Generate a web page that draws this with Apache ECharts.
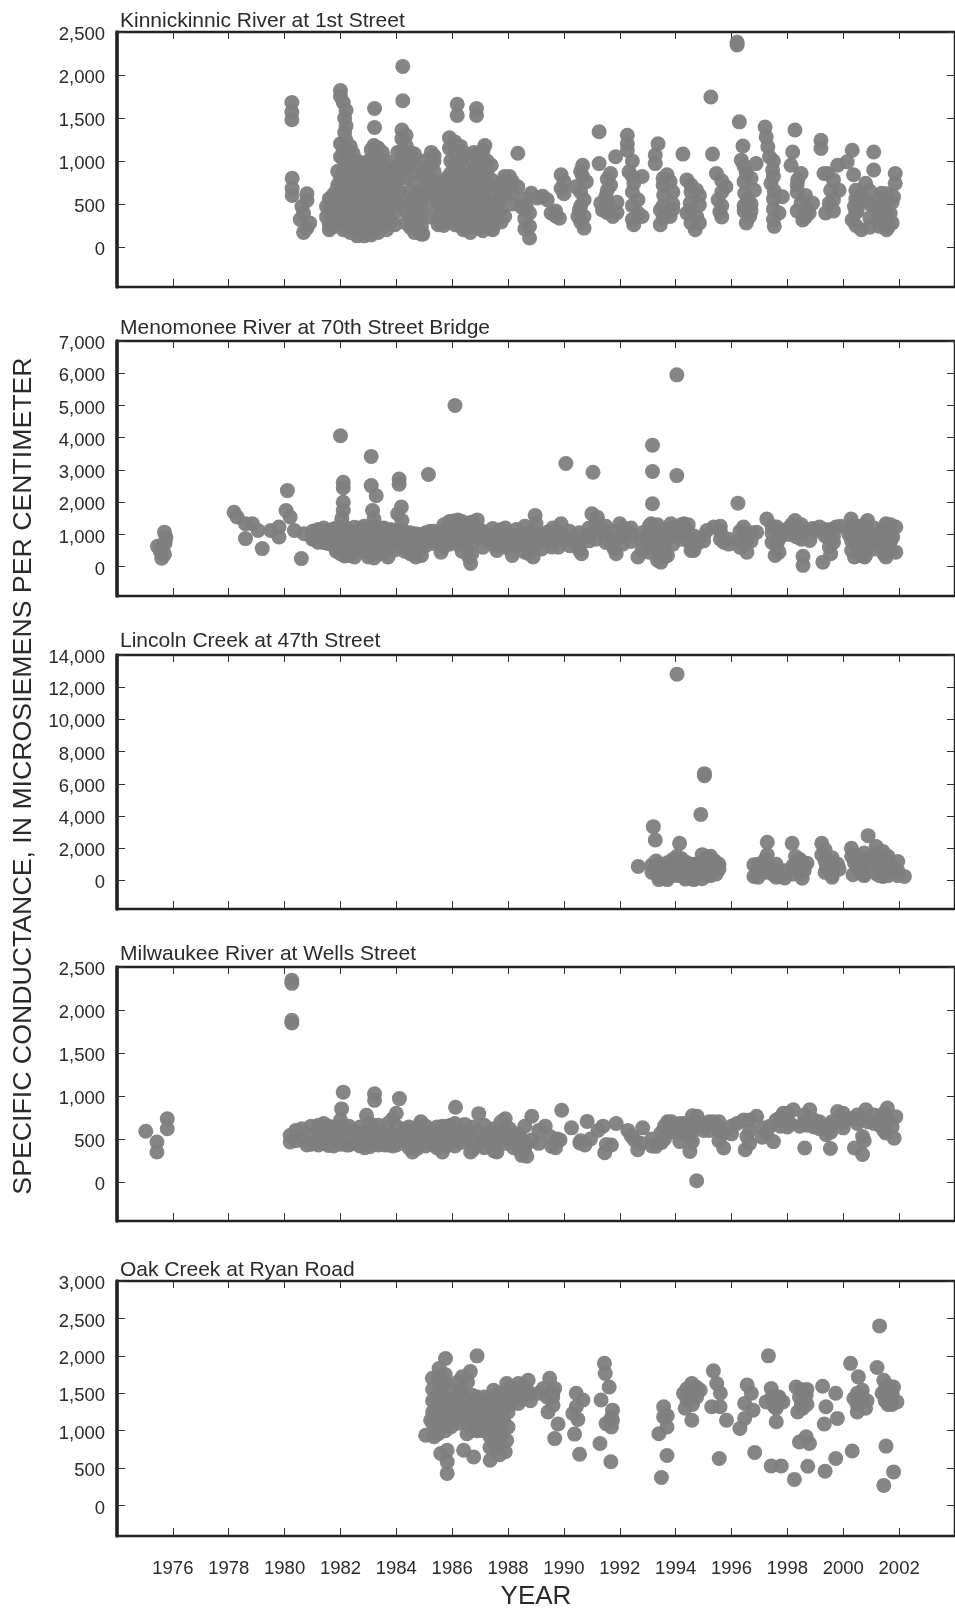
<!DOCTYPE html>
<html><head><meta charset="utf-8">
<style>html,body{margin:0;padding:0;background:#fff;overflow:hidden}#c{width:955px;height:1611px}</style>
<script src="https://cdn.jsdelivr.net/npm/echarts@6/dist/echarts.min.js"></script>
</head><body><div id="c"></div>
<script>
const yearTicks=[1976,1978,1980,1982,1984,1986,1988,1990,1992,1994,1996,1998,2000,2002];
const panelTitles=["Kinnickinnic River at 1st Street","Menomonee River at 70th Street Bridge","Lincoln Creek at 47th Street","Milwaukee River at Wells Street","Oak Creek at Ryan Road"];
const ticks1=[0,500,1000,1500,2000,2500];
const ticks2=[0,1000,2000,3000,4000,5000,6000,7000];
const ticks3=[0,2000,4000,6000,8000,10000,12000,14000];
const ticks4=[0,500,1000,1500,2000,2500];
const ticks5=[0,500,1000,1500,2000,2500,3000];
const kinnickinnic=[
[1980.26,1680],[1980.26,1570],[1980.26,1480],[1980.27,800],[1980.27,680],[1980.27,600],
[1980.8,620],[1980.8,540],[1980.62,470],[1980.56,320],[1980.68,390],[1980.8,220],[1980.68,170],[1980.9,280],
[1981.5,470],[1981.5,350],[1981.6,560],[1981.6,260],[1981.6,200],[1981.75,610],[1981.75,470],[1981.75,350],[1981.75,240],
[1981.9,880],[1981.9,720],[1981.9,600],[1981.9,480],
[1982,1820],[1982,1750],[1982,1200],[1982,1050],[1982,800],[1982,650],[1982,500],[1982,380],
[1982.2,1590],[1982.2,1410],[1982.2,1240],[1982.2,1090],[1982.2,950],[1982.2,800],[1982.2,620],[1982.2,480],[1982.2,350],[1982.2,250],
[1982.45,1090],[1982.45,950],[1982.45,650],[1982.45,500],[1982.45,350],[1982.45,220],
[1982.7,980],[1982.7,750],[1982.7,600],[1982.7,450],[1982.7,300],[1982.7,170],
[1983,1000],[1983,880],[1983,750],[1983,600],[1983,450],[1983,300],[1983,180],
[1983.22,1610],[1983.22,1390],[1984.23,2100],[1984.23,1700],
[1983.2,1180],[1983.2,1050],[1983.2,900],[1983.2,750],[1983.2,600],[1983.2,450],[1983.2,300],
[1983.5,1100],[1983.5,950],[1983.5,800],[1983.5,650],[1983.5,500],[1983.5,350],[1983.5,230],
[1983.8,900],[1983.8,750],[1983.8,600],[1983.8,450],[1983.8,300],
[1984.1,800],[1984.1,650],[1984.1,500],
[1984.2,1360],[1984.2,1260],[1984.2,1120],[1984.2,1000],[1984.2,880],[1984.5,1100],[1984.5,1000],
[1984.5,650],[1984.5,500],[1984.5,350],[1984.5,230],[1984.8,600],[1984.8,450],[1984.8,300],[1984.8,190],[1984.95,150],
[1985,1000],[1985,850],[1985,700],[1985.25,1100],[1985.25,950],
[1985.6,700],[1985.6,550],[1985.6,400],[1985.6,280],[1985.8,800],[1985.8,650],[1985.8,500],
[1985.9,1270],[1985.9,1150],[1986.18,1660],[1986.18,1530],
[1986.3,1170],[1986.3,1000],[1986.3,850],[1986.3,700],[1986.3,550],[1986.3,400],[1986.3,260],
[1986.5,800],[1986.5,600],[1986.5,400],[1986.5,220],
[1986.78,1100],[1986.78,900],[1986.78,750],[1986.78,600],[1986.78,450],[1986.78,300],
[1986.87,1610],[1986.87,1530],
[1987,1100],[1987,950],[1987,800],[1987,650],[1987,500],[1987,350],[1986.95,220],
[1987.17,1180],[1987.25,1000],[1987.25,850],[1987.25,700],[1987.25,550],[1987.25,400],[1987.25,260],[1987.45,200],
[1987.6,700],[1987.6,500],[1987.6,350],
[1987.88,820],[1987.88,625],[1987.88,355],[1987.7,550],
[1988.35,1090],[1988.35,700],[1987.95,700],[1988.05,820],
[1988.83,625],[1989.24,590],[1988.47,470],[1988.77,395],[1988.77,240],[1988.77,105],[1989.54,395],[1989.84,335],[1989.4,550],[1988.65,480],[1989.05,570],
[1989.9,840],[1989.9,680],[1990.43,700],[1990.67,950],[1990.67,820],[1990.8,760],[1990.55,430],[1990.72,550],[1990.72,355],[1990.72,220],[1990.5,355],
[1991.26,1340],[1991.26,970],[1991.85,1050],[1991.67,855],[1991.67,720],[1991.5,590],[1991.38,430],[1991.75,355],[1991.32,510],
[1992.27,1300],[1992.27,1200],[1992.27,1125],[1992.33,875],[1992.8,820],[1992.5,740],[1992.65,550],[1992.65,395],[1992.5,260],[1992.8,355],
[1993.37,1200],[1993.27,1070],[1993.27,970],[1993.69,840],[1993.8,760],[1993.57,605],[1993.45,430],[1993.45,260],[1993.8,355],
[1994.26,1080],[1994.4,780],[1994.75,660],[1994.52,510],[1994.75,355],[1994.4,395],[1994.7,200],
[1995.32,1080],[1995.26,1745],[1995.46,855],[1995.8,700],[1995.52,550],[1995.58,410],
[1996.2,2380],[1996.2,2350],[1996.28,1455],[1996.41,1175],[1996.35,1010],[1996.53,855],[1996.47,625],[1996.88,970],[1996.82,660],[1996.59,550],[1996.65,355],[1996.53,280],
[1997.2,1395],[1997.24,1280],[1997.3,1165],[1997.36,1050],[1997.47,895],[1997.41,740],[1997.82,585],[1997.7,395],[1997.53,650],[1997.53,240],
[1998.27,1360],[1998.19,1105],[1998.13,950],[1998.49,855],[1998.37,780],[1998.49,510],[1998.78,395],[1998.55,315],[1998.9,510],
[1999.2,1240],[1999.2,1145],[1999.31,855],[1999.8,950],[1999.44,855],[1999.55,660],[1999.85,660],[1999.5,510],[1999.37,395],
[2000.32,1125],[2000.14,990],[2000.37,840],[2000.8,740],[2000.75,550],[2000.4,470],[2000.32,315],[2000.65,200],[2001.09,1105],[2001.09,895],[2001.37,625],[2001.15,470],[2001.62,240],[2001.26,315],
[2001.86,855],[2001.86,740],[2001.8,585],[2001.68,395],[2001.5,500],[2001.5,400],[2000.6,600],[2000.5,420]
];
const kinnickinnicColumns=[
[1981.65,[530,420,310]],[1981.85,[650,420,300]],[1982.1,[1680,1130,1020,880,730,570,430,300,200]],[1982.15,[1500,1330]],[1982.35,[1170,1020,870,720,570,420,290,170]],
[1982.6,[1000,860,720,560,410,260,130]],[1982.85,[950,810,670,520,380,240,130]],[1983.1,[1130,1000,830,680,520,370,230,140]],[1983.35,[1150,1010,860,710,560,400,260,170]],
[1983.65,[1000,860,720,570,420,280,200]],[1983.95,[850,700,550,400,260]],[1984.05,[1100,950]],[1984.35,[1300,1180,1060,930,800,570,420,280]],[1984.65,[1080,940,850,750,580,430,280,170]],
[1984.9,[530,380,240,150]],[1985.1,[920,780,640]],[1985.2,[800,500,350]],[1985.35,[1060,1000,880,760,620]],[1985.5,[640,500,340,260]],[1985.7,[760,620,460,320,250]],[1985.95,[1000,860,720,580,440,320]],
[1986.1,[1220,1100,950,800,650,500,380,260]],[1986.4,[1100,920,780,630,480,330,200]],[1986.65,[1050,850,700,540,380,240,170]],[1986.9,[1030,880,730,580,430,280]],
[1987.1,[1120,980,830,680,530,380,240,190]],[1987.4,[950,780,630,480,330,220]],[1987.75,[740,580,430,290]],[1988.15,[760,620,500]],[1988.6,[560,430,330,210]],
[1989.7,[420,360]],[1990,[760,620]],[1990.6,[880,640,480,290]],[1991.55,[790,660,520,400]],[1991.9,[400,520]],[1992.45,[1000,820,640,480,320]],[1993.55,[800,720,480,340]],
[1993.9,[640,500,440]],[1994.55,[720,640,440,280]],[1994.85,[600,490,280]],[1995.65,[770,640,480,350]],[1996.45,[940,760,480,420]],[1996.7,[800,500,420]],[1997.5,[1000,820,560,440,320]],
[1998.35,[720,640,420]],[1998.65,[600,440,350]],[1999.65,[780,550,420]],[2000.45,[660,560,400,250]],[2000.95,[650,500,340,230]],[2001.3,[560,400,240]],[2001.55,[620,330,200]],[2001.75,[520,280]]
];
const menomonee=[
[1975.7,1070],[1975.75,900],[1975.72,720],[1975.6,600],[1975.45,630],[1975.55,470],[1975.6,260],[1975.7,380],
[1978.19,1690],[1978.3,1540],[1978.6,1330],[1978.85,1330],[1978.6,870],[1979.2,560],[1979.05,1120],[1979.5,1120],
[1979.8,1230],[1979.8,920],[1980.1,2360],[1980.05,1740],[1980.2,1540],[1980.6,250],[1980.35,1120],[1980.7,1020],[1981,920],
[1981,1100],[1981,850],[1981.4,1200],[1981.4,1000],[1981.4,750],[1981.7,1150],[1981.7,950],[1981.7,700],
[1982,4060],[1982.1,2620],[1982.1,2450],[1982.1,2000],[1982.1,1740],[1982.05,1500],
[1982,1200],[1982,1000],[1982,800],[1982,600],[1982,400],[1982.3,1150],[1982.3,950],[1982.3,750],[1982.3,550],[1982.3,350],
[1982.7,1200],[1982.7,1000],[1982.7,800],[1982.7,600],
[1983.1,3420],[1983.1,2515],[1983.28,2200],[1983.15,1740],[1983.2,1480],
[1983,1150],[1983,950],[1983,750],[1983,500],[1983,300],[1983.4,1200],[1983.4,1000],[1983.4,800],[1983.4,600],[1983.4,400],
[1983.8,1150],[1983.8,950],[1983.8,700],[1983.7,300],
[1984.1,2720],[1984.1,2560],[1984.18,1850],[1984.05,1640],[1984.2,1430],[1984.1,1100],[1984.1,900],[1984.1,700],
[1984.5,1050],[1984.5,850],[1984.5,650],[1984.5,400],[1984.9,1000],[1984.9,800],[1984.9,600],[1984.9,350],
[1985.15,2860],[1985.2,1100],[1985.2,850],[1985.5,1050],[1985.5,800],[1985.6,450],
[1986.1,5000],[1985.9,1400],[1985.9,1200],[1985.9,950],[1985.9,700],[1986.2,1450],[1986.2,1200],[1986.2,950],[1986.2,700],
[1986.5,1350],[1986.5,1150],[1986.5,900],[1986.5,600],[1986.6,300],[1986.66,100],[1986.9,1450],[1986.9,1200],[1986.9,950],
[1987.3,1000],[1987.3,800],[1987.6,1050],[1987.6,800],[1987.6,500],[1987.9,1200],[1987.9,950],[1987.9,600],[1988.15,950],[1988.15,750],[1988.15,350],
[1988.97,1590],[1989,1340],[1988.75,400],[1988.8,710],[1988.75,1020],[1988.4,1000],[1988.45,700],
[1989.56,610],[1989.4,1070],[1989.9,1330],[1990.05,920],[1990.63,400],[1990.4,810],[1990.75,920],[1991,1640],[1991.2,1530],[1991.45,1120],
[1991.87,400],[1991.7,710],[1992,1330],[1992.25,1120],[1990.07,3200],[1991.04,2930],
[1993.17,3770],[1993.17,2950],[1993.17,1950],[1994.04,5950],[1994.04,2825],
[1993.12,1330],[1993.24,810],[1992.65,300],[1993.47,140],[1993.71,350],[1993.59,710],[1992.9,920],[1993.83,1330],[1994.3,1330],[1994.04,1020],[1994.55,500],[1994.78,710],[1995.36,1230],[1995.72,760],[1995.12,1120],
[1996.23,1970],[1996.43,1230],[1996.9,1070],[1996.55,810],[1996.55,450],[1997.26,1480],[1997.62,1230],[1997.85,1120],[1997.62,710],[1997.56,350],
[1998.27,1430],[1998.33,920],[1998.8,810],[1998.56,320],[1998.56,40],[1999.15,1230],[1999.74,1230],[1999.5,610],[1999.27,140],
[2000.28,1480],[2000.87,1430],[2000.46,1020],[2000.82,1020],[2000.46,710],[2000.4,300],[2000.76,300],[2001.53,1330],[2001.88,1230],[2001.3,1020],[2001.77,920],[2001.41,610],[2001.88,450],[2001.53,300],
[1999.45,1000],[1998.9,1180],[2000.95,700],[2000.2,1000]
];
const menomoneeColumns=[
[1981.2,[1150,960,760]],[1981.55,[1100,900,720]],[1981.85,[1200,1040,860,680,480]],[1982.15,[1240,1080,900,700,520,330]],[1982.5,[1220,1040,860,660,460,300]],[1982.85,[1250,1080,880,680,470]],
[1983.2,[1240,1060,870,660,440,270]],[1983.55,[1200,1020,830,620,450]],[1983.95,[1120,930,740,520]],[1984.3,[1080,880,680,480]],[1984.7,[1020,840,640,430,300]],[1985.05,[1050,850,650]],
[1985.35,[1100,920,720]],[1985.7,[1300,1080,860,620]],[1986.05,[1420,1220,1020,820]],[1986.35,[1400,1180,960,760,480]],[1986.7,[1380,1160,920,700,400]],[1987.1,[1100,900,600]],
[1987.45,[1180,950,700]],[1987.75,[1150,900,650]],[1988.3,[1150,900,650]],[1988.6,[1250,1000,750,450]],[1988.9,[1100,850,600,300]],[1989.2,[1000,800,550]],[1989.6,[1200,950,750]],
[1989.8,[1100,850,600]],[1990.2,[1100,850,650]],[1990.55,[1050,800,520]],[1990.9,[1200,950,800]],[1991.15,[1350,1050,850]],[1991.5,[1250,1000,750]],[1991.8,[1100,850,550]],[1992.1,[1200,950,700]],
[1992.4,[1200,1000,780]],[1992.8,[1050,800,500]],[1993.05,[1250,1000,750,450]],[1993.35,[1300,1050,800,500,200]],[1993.6,[1150,900,500,300]],[1993.9,[1200,950,700]],[1994.2,[1300,1100,850]],
[1994.45,[1300,1050,800]],[1994.65,[950,750,500]],[1995,[950,800]],[1995.6,[1250,1100,850]],[1995.9,[850,700]],[1996.3,[1100,800,600]],[1996.7,[1050,800]],[1996.45,[1000]],
[1997.45,[1250,1050,750]],[1997.7,[1100,850,450]],[1998.05,[1200,1000]],[1998.5,[1300,1100,850]],[1998.15,[1300,1100]],[1999,[1100]],[1999.35,[1150,950]],[1999.55,[1150,850,400]],[1999.65,[950,750]],
[1999.9,[1250]],[2000.3,[1250,1050,800,500]],[2000.6,[1250,1050,800,500,350]],[2000.8,[1300,1100,800,500,350]],[2001.1,[1200,1000,750,550]],[2001.45,[1200,1000,700,400]],[2001.7,[1300,1100,800,500]]
];
const lincoln=[
[1994.05,12810],[1995.03,6630],[1995.03,6500],[1994.9,4100],[1993.2,3340],[1993.27,2510],[1992.66,870],[1994.14,2300],
[1993.3,1200],[1993.3,600],[1993.55,400],[1993.55,900],[1993.9,1300],[1993.9,800],[1993.9,500],[1994.2,1350],[1994.2,800],[1994.55,1000],[1994.55,400],[1994.8,1000],[1994.8,400],[1995.1,1400],[1995.1,1000],[1995.1,500],[1995.4,1200],[1995.4,650],[1995.55,1000],[1995.55,700],
[1996.8,970],[1996.8,250],[1997.28,2370],[1997.28,1590],[1997.4,760],[1997.75,250],[1997.5,350],[1997.6,1000],[1997.1,800],[1997.6,400],
[1998.17,2300],[1998.29,1480],[1998.7,1070],[1998.53,140],[1998.41,760],[1998.6,600],[1998.3,1000],
[1999.23,2300],[1999.23,1590],[1999.53,1170],[1999.59,350],[1999.4,800],[1999.8,1000],
[2000.29,2000],[2000.58,1380],[2000.35,350],[2000.7,350],[2000.53,760],[2000.89,2780],[2000.3,1500],
[2001.18,2100],[2001.42,1800],[2001.06,970],[2001.42,250],[2001.1,1500],[2001.6,1170],[2001.95,1170],[2001.8,760],[2002.19,250],[2001.4,900]
];
const lincolnColumns=[
[1993.15,[950,500]],[1993.4,[1000,250,50]],[1993.7,[1100,700,200,50]],[1994.05,[1500,1100,700,300]],[1994.35,[1150,700,200,80]],[1994.65,[1000,700,100,50]],[1994.95,[1600,1000,700,100]],[1995.25,[1500,1000,300]],[1995.45,[900,400]],
[1996.95,[1000,500,200]],[1997.2,[1300,900,500]],[1997.6,[700,200]],[1997.9,[600,150]],[1998.45,[1300,1000,500]],[1998.6,[900]],[1998.2,[900,400]],[1999.35,[1900,1200,500]],[1999.6,[1400,800,200]],[1999.85,[700]],
[2000.6,[1000,600]],[2000.4,[1600,1100]],[2000.75,[1700,1300,900,300]],[2001.3,[1300,700,300]],[2001.6,[1500,800,300]],[2001.95,[600,300]],[2001.2,[1700,400]]
];
const milwaukee=[
[1975.03,590],[1975.43,350],[1975.43,465],[1975.8,735],[1975.8,620],
[1980.26,2345],[1980.26,2310],[1980.26,1880],[1980.26,1850],
[1980.2,465],[1980.2,540],[1980.62,620],[1980.8,430],[1980.62,500],[1981.21,660],[1981.21,540],[1981.21,430],[1981.57,425],[1981.57,650],[1981.57,530],
[1982.1,1045],[1982.04,850],[1981.86,580],[1982.22,430],[1982.1,650],[1982.51,590],[1982.51,450],[1982.93,775],[1982.87,400],[1982.87,580],
[1983.22,1025],[1983.22,950],[1983.46,580],[1983.58,430],[1983.2,620],[1983.2,450],[1984.11,970],[1983.87,735],[1983.87,550],[1983.87,420],[1984.29,620],[1984.29,480],
[1984.58,350],[1984.58,550],[1984.88,700],[1984.88,520],[1985.24,580],[1985.24,440],[1985.65,350],[1985.65,520],[1985.65,650],
[1986.12,870],[1985.95,660],[1985.95,500],[1986.54,590],[1986.66,350],[1986.3,600],[1986.3,460],[1986.95,795],[1986.95,580],[1986.95,450],[1987.37,580],[1987.37,450],[1987.6,350],[1987.6,500],[1987.9,735],[1987.9,600],[1987.9,450],[1988.2,540],[1988.2,400],[1988.49,310],[1988.49,500],
[1988.85,765],[1989.33,650],[1988.85,490],[1988.67,300],[1988.67,450],[1989.56,415],[1989.75,500],[1989.92,835],[1989.86,490],[1990.27,630],[1990.83,705],[1990.57,455],[1990.75,430],[1990.6,480],
[1991.4,650],[1991.22,600],[1991.87,680],[1991.52,435],[1991.46,340],[1991.7,430],[1992.29,600],[1992.82,630],[1992.52,490],[1992.64,375],[1992.75,450],
[1993.29,415],[1993.47,570],[1993.71,700],[1993.5,460],[1994.3,680],[1994,620],[1994.77,765],[1994.54,530],[1994.51,355],[1994.75,15],[1994.75,640],
[1995.36,700],[1995.72,570],[1995.72,395],[1995.5,650],[1996.43,720],[1996.9,765],[1996.55,530],[1996.49,375],[1996.2,680],
[1997.38,650],[1997.85,800],[1997.5,470],[1997.26,570],[1997.6,720],[1998.21,840],[1998.8,840],[1998.44,650],[1998.1,680],[1998.7,660],[1999.33,650],[1999.39,550],[1998.62,395],[1999.54,390],
[1999.8,820],[1999.6,700],[2000.34,740],[2000.1,730],[2000.81,840],[2000.69,530],[2000.4,395],[2000.69,320],[2000.6,720],[2000.75,480],
[2001.58,860],[2001.88,760],[2001.34,650],[2001.82,510],[2001.52,570],[2001.6,720],[2001.75,640],[2001.3,720]
];
const milwaukeeColumns=[
[1980.4,[600,480]],[1980.95,[650,540,440]],[1981.4,[680,560,450]],[1981.75,[640,520,420]],[1982,[720,570,440]],[1982.3,[650,520,430]],[1982.7,[640,520,420]],[1983.05,[680,550,410]],[1983.35,[660,530,430]],
[1983.7,[680,540,430]],[1984,[800,650,520,430]],[1984.45,[640,510,400]],[1984.75,[640,510,390]],[1985.05,[650,520,420]],[1985.45,[640,500,400]],[1985.8,[650,530,420]],[1986.1,[680,520,420]],[1986.45,[670,480]],
[1986.75,[640,480,380]],[1987.15,[660,500,400]],[1987.5,[620,430,360]],[1987.75,[700,550]],[1988.05,[620,480]],[1988.35,[560,430]],[1988.6,[650,400]],[1989.1,[600,450]],[1989.5,[530]],[1989.7,[400]],
[1990.95,[500]],[1992.4,[540]],[1993.15,[500,420]],[1993.6,[650,500]],[1993.85,[700,580]],[1994.15,[680,580,470]],[1994.45,[650,560]],[1994.6,[770,640,470]],[1995,[680,600]],[1995.2,[700,600]],[1995.55,[700,600,480]],
[1996,[650,560]],[1996.65,[720,600,450]],[1997.1,[630,520]],[1997.75,[750,650]],[1998,[800,720,640]],[1998.6,[780,680]],[1998.95,[720,640]],[1999.15,[700,620]],[1999.55,[650,580]],[2000,[800,700,630]],
[2000.5,[780,680]],[2001.1,[780,680]],[2000.9,[700]],[2001.45,[800,680,600]]
];
const oak=[
[1985.76,1965],[1985.53,1830],[1985.29,1700],[1985.59,1585],[1985.41,1450],[1985.7,1450],[1985.41,1275],[1985.82,1340],[1985.23,1140],[1985.82,1140],[1985.35,920],[1985.05,940],[1985.59,1185],[1985.59,1050],
[1986.89,2000],[1986.65,1790],[1986.36,1720],[1986.36,1540],[1986.71,1475],[1986.41,1340],[1986.89,1230],[1986.53,1095],[1986.71,1005],[1986.53,960],[1986.12,1365],[1986.65,1275],
[1985.59,695],[1985.82,740],[1985.82,585],[1985.82,430],[1986.41,740],[1986.77,650],[1987.36,605],
[1987.95,1630],[1987.48,1540],[1987.6,1365],[1987.24,1320],[1987.84,1275],[1987.48,1140],[1987.84,1140],[1987.36,920],[1987.95,870],[1987.9,720],[1987.6,785],[1987.72,1005],[1987.48,1320],
[1988.72,1675],[1988.37,1630],[1988.66,1500],[1988.37,1365],[1988.13,1585],
[1989.49,1700],[1989.67,1565],[1989.26,1565],[1989.61,1340],[1989.43,1250],
[1990.44,1500],[1990.68,1410],[1990.32,1230],[1990.44,1320],[1989.79,1090],[1989.67,895],[1990.38,955],[1990.56,685],
[1991.45,1900],[1991.48,1765],[1991.62,1585],[1991.33,1410],[1991.74,1275],[1991.74,1140],[1991.51,1095],[1991.29,830],[1991.68,585],
[1993.57,1320],[1993.69,1050],[1993.4,960],[1993.69,670],[1993.49,375],[1993.57,1185],
[1994.58,1630],[1994.28,1500],[1994.88,1540],[1994.52,1450],[1994.34,1300],[1994.58,1140],
[1995.56,630],[1995.35,1800],[1995.47,1630],[1995.29,1320],[1995.59,1320],[1995.82,1140],
[1996.56,1610],[1996.71,1500],[1996.47,1365],[1996.77,1275],[1996.47,1165],[1996.3,1030],
[1996.83,710],[1997.32,2000],[1997.42,1565],[1997.24,1385],[1997.84,1385],[1997.54,1320],[1997.6,1120],[1997.42,530],[1997.78,530],
[1998.31,1585],[1998.67,1475],[1998.43,1450],[1998.37,1250],[1998.67,920],[1998.79,830],[1998.43,850],[1998.73,525],[1998.25,350],
[1999.26,1595],[1999.73,1500],[1999.38,1320],[1999.79,1165],[1999.32,1090],[1999.35,460],[1999.73,630],[2000.32,730],
[2000.26,1900],[2000.54,1720],[2000.68,1540],[2000.38,1430],[2000.8,1300],[2000.68,1450],
[2001.53,795],[2001.3,2400],[2001.21,1845],[2001.45,1675],[2001.8,1585],[2001.39,1500],[2001.63,1500],[2001.92,1385],[2001.68,1405],[2001.8,450],[2001.45,270]
];
const oakColumns=[
[1985.3,[1550,1400,1250,1100]],[1985.5,[1700,1500,1350,1100,960]],[1985.75,[1750,1650,1250,1000]],[1985.95,[1550,1400,1250,1150,1050]],[1986.2,[1650,1280,1100]],[1986.25,[1500,1200]],[1986.55,[1650,1400,1200]],[1986.9,[1450,1350,1100,1000]],
[1987.1,[1350,1150,1000]],[1987.15,[1450,1250]],[1987.35,[1420,1220,1020,780]],[1987.5,[1250,1050,850]],[1987.7,[1500,1200,850,680]],[1987.75,[1400,1100,950]],[1988,[1450,1250,1050]],[1988.05,[1350]],[1988.2,[1450]],
[1988.45,[1500,1430]],[1988.55,[1600,1450]],[1988.8,[1500,1400]],[1989.1,[1500]],[1989.4,[1450]],[1989.6,[1500,1450]],[1994.4,[1560,1420]],[1994.6,[1500,1350]],[1994.75,[1580,1450]],
[1997.45,[1450]],[1997.6,[1450,1300]],[1997.7,[1450,1400]],[1998.5,[1550,1350]],[1998.55,[1500,1300]],[1998.7,[1550,1350]],[2000.5,[1500,1350,1250]],[2000.85,[1400]],[2001.5,[1550,1400]],[2001.6,[1600,1350]],[2001.75,[1500,1350]],
[1990.5,[1150]],[1993.7,[1200]],[1995.6,[1500]],[1991.7,[1180,1050]]
];
const expand=c=>c.flatMap(([y,vs])=>vs.map(v=>[y,v]));
const panelData=[kinnickinnic.concat(expand(kinnickinnicColumns)),menomonee.concat(expand(menomoneeColumns)),lincoln.concat(expand(lincolnColumns)),milwaukee.concat(expand(milwaukeeColumns)),oak.concat(expand(oakColumns))];
const panelTicks=[ticks1,ticks2,ticks3,ticks4,ticks5];
const panelMin=[-465,-910,-1776,-453,-406];
const panelMax=[2500,7000,14000,2500,3000];
const panelTop=[32,341,655,967,1281];
const panelHeight=[255,255,254,254,255];
const titleGap=[26,28,29,28,26];
const font='"Liberation Sans",Arial,sans-serif', ink='#2a2a2a', dot='#7e7e7e';
const grids=[],xs=[],ys=[],series=[],titles=[];
panelData.forEach((d,i)=>{
  grids.push({left:117,width:844,top:panelTop[i],height:panelHeight[i],show:true,borderColor:'#222',borderWidth:2.5,backgroundColor:'transparent'});
  const last=i===4;
  const xbase={type:'value',gridIndex:i,min:1974,max:2004,splitLine:{show:false},axisLine:{show:false,onZero:false}};
  xs.push({...xbase,position:'bottom',
    name:last?'YEAR':'',nameLocation:'middle',nameGap:48,nameTextStyle:{fontFamily:font,fontSize:26,color:ink},
    axisTick:{show:true,inside:true,length:8,lineStyle:{color:'#333',width:1},customValues:yearTicks},
    axisLabel:{show:last,margin:23,fontFamily:font,fontSize:18.5,color:ink,customValues:yearTicks,formatter:v=>String(v)}});
  xs.push({...xbase,position:'top',
    axisTick:{show:true,inside:true,length:7,lineStyle:{color:'#333',width:1},customValues:yearTicks},
    axisLabel:{show:false}});
  const ybase={type:'value',gridIndex:i,min:panelMin[i],max:panelMax[i],splitLine:{show:false}};
  ys.push({...ybase,position:'left',axisLine:{show:true,onZero:false,lineStyle:{color:'#222',width:3.5}},
    axisTick:{show:true,inside:true,length:8,lineStyle:{color:'#333',width:1},customValues:panelTicks[i]},
    axisLabel:{show:true,margin:12,verticalAlign:'top',lineHeight:6,fontFamily:font,fontSize:18.5,color:ink,customValues:panelTicks[i],formatter:v=>v.toLocaleString('en-US')}});
  ys.push({...ybase,position:'right',axisLine:{show:false,onZero:false},
    axisTick:{show:true,inside:true,length:8,lineStyle:{color:'#333',width:1},customValues:panelTicks[i]},
    axisLabel:{show:false}});
  series.push({type:'scatter',xAxisIndex:i*2,yAxisIndex:i*2,data:d,symbol:'circle',symbolSize:15,itemStyle:{color:dot,opacity:0.95},silent:true,animation:false});
  titles.push({text:panelTitles[i],left:115,top:panelTop[i]-titleGap[i],textStyle:{fontFamily:font,fontSize:21,fontWeight:'normal',color:ink}});
});
const chart=echarts.init(document.getElementById('c'),null,{renderer:'canvas'});
chart.setOption({backgroundColor:'#fff',animation:false,title:titles,grid:grids,xAxis:xs,yAxis:ys,series:series,
  graphic:[{type:'text',rotation:Math.PI/2,x:24,y:776,style:{text:'SPECIFIC CONDUCTANCE, IN MICROSIEMENS PER CENTIMETER',fontFamily:font,fontSize:26.7,fill:ink,textAlign:'center',textVerticalAlign:'middle'}}]});
</script></body></html>
